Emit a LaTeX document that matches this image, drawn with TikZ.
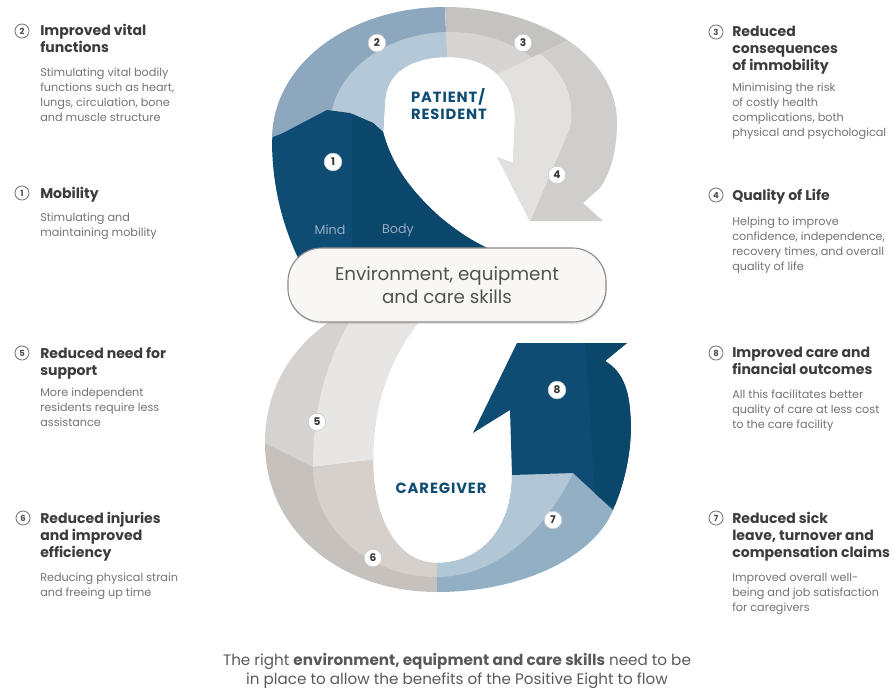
\documentclass[tikz,border=0pt]{standalone}
\usepackage{fontspec}
\setmainfont{Poppins}
\usepackage{tikz}
\usetikzlibrary{shapes, shadows, positioning}
\definecolor{navy}{RGB}{14,76,115}
\definecolor{navyR}{RGB}{11,70,107}
\definecolor{steelO}{RGB}{141,168,190}
\definecolor{steelI}{RGB}{180,200,215}
\definecolor{greyThreeO}{RGB}{197,195,193}
\definecolor{greyThreeI}{RGB}{215,213,211}
\definecolor{greyFourO}{RGB}{208,206,204}
\definecolor{greyFourI}{RGB}{227,225,223}
\definecolor{greyFiveO}{RGB}{213,210,207}
\definecolor{greyFiveI}{RGB}{232,230,228}
\definecolor{greySixO}{RGB}{198,193,189}
\definecolor{greySixI}{RGB}{213,208,204}
\definecolor{blueSevenO}{RGB}{146,175,196}
\definecolor{blueSevenI}{RGB}{177,199,214}
\definecolor{headgrey}{RGB}{60,60,60}
\definecolor{bodygrey}{RGB}{115,115,115}
\definecolor{boxfill}{RGB}{248,247,245}
\definecolor{mindblue}{RGB}{150,174,196}
\tikzset{
    numdot/.style={circle, fill=white, draw=black!20, line width=0.5pt, inner sep=0pt, minimum size=12.5pt, text=black!80, font=\bfseries\fontsize{7.5}{7.5}\selectfont},
    numring/.style={circle, draw=black!55, line width=0.6pt, inner sep=0pt, minimum size=10pt, text=black!70, font=\bfseries\fontsize{6}{6}\selectfont},
    headtxt/.style={anchor=north west, align=left, inner sep=0pt, text=headgrey, font=\bfseries\fontsize{10}{12}\selectfont},
    bodytxt/.style={anchor=north west, align=left, inner sep=0pt, text=bodygrey, font=\fontsize{8}{10.6}\selectfont},
    looptitle/.style={align=left, inner sep=0pt, text=navy, font=\bfseries\fontsize{10.5}{12}\selectfont\addfontfeatures{LetterSpace=6}},
    envbox/.style={rectangle, rounded corners=24pt, draw=black!45, line width=0.8pt, fill=boxfill, minimum width=7.95cm, minimum height=1.85cm, align=center, text=black!68, font=\fontsize{13}{16.5}\selectfont, drop shadow={opacity=0.2, shadow xshift=0.6pt, shadow yshift=-1.5pt}},
    smalltxt/.style={inner sep=0pt, text=mindblue, font=\fontsize{9}{9}\selectfont}
}
\newcommand\segOne{(273,137) -- (283,133) -- (327,110) -- (350,113) -- (373,123) -- (383,132) .. controls (392,165) and (410,190) .. (440,217) .. controls (458,232) and (475,243) .. (492,250) -- (492,262) -- (300,262) .. controls (282,225) and (272,185) .. (272,140) -- cycle}
\newcommand\segTwo{(272,140) .. controls (272,62) and (352,7) .. (445,7) -- (447,57) .. controls (412,57) and (387,72) .. (385,100) -- (383,134) -- cycle}
\newcommand\segThree{(445,7) .. controls (494,7) and (537,20) .. (568,40.5) -- (497,74) .. controls (485.5,63) and (468.5,57) .. (447,57) -- cycle}
\newcommand\segFour{(568,40.5) .. controls (598.5,61) and (617,90) .. (617,122) .. controls (617,150) and (611,172) .. (600,188) -- (583,203) -- (603,221) -- (530,221) -- (497,157) -- (513,163) -- (515,120) .. controls (515,101) and (509,85) .. (497,74) -- cycle}
\newcommand\segFive{(345,312) .. controls (295,340) and (265,385) .. (265,443) -- (313,467) -- (373,460) .. controls (373,400) and (392,352) .. (427,312) -- cycle}
\newcommand\segSix{(265,443) .. controls (265,530) and (340,592) .. (437,592) -- (437,563) .. controls (398,563) and (373,520) .. (373,460) -- (313,467) -- cycle}
\newcommand\segSeven{(437,592) .. controls (525,592) and (595,555) .. (613,510) -- (573,473) -- (512,475) .. controls (512,530) and (480,563) .. (437,563) -- cycle}
\newcommand\segEight{(512,475) -- (510,410) -- (473,433) -- (517,343) -- (627,343) -- (605,361) .. controls (620,370) and (628,385) .. (630,410) .. controls (633,440) and (628,475) .. (613,510) -- (573,473) -- cycle}
\newcommand\midUpper{(450,127) ellipse [x radius=120, y radius=95]}
\newcommand\midLower{(360,305) .. controls (330,350) and (313,400) .. (313,467) .. controls (313,530) and (370,577) .. (437,577) .. controls (490,577) and (540,540) .. (573,473) -- (573,300) -- cycle}

\begin{document}
\begin{tikzpicture}[x=0.025cm, y=-0.025cm]
\useasboundingbox (0,0) rectangle (894,692);

\fill[steelO] \segTwo;
\begin{scope}
    \clip \segTwo;
    \fill[steelI] \midUpper;
\end{scope}
\fill[greyThreeO] \segThree;
\begin{scope}
    \clip \segThree;
    \fill[greyThreeI] \midUpper;
\end{scope}
\fill[greyFourO] \segFour;
\begin{scope}
    \clip \segFour;
    \fill[greyFourI] (540,54) .. controls (566,74) and (575,100) .. (570,128) -- (530,222) -- (480,222) -- (480,54) -- cycle;
\end{scope}
\fill[navy] \segOne;
\begin{scope}
    \clip \segOne;
    \fill[navyR] (352,100) -- (500,100) -- (500,270) -- (352,270) -- cycle;
\end{scope}

\fill[greyFiveO] \segFive;
\begin{scope}
    \clip \segFive;
    \fill[greyFiveI] \midLower;
\end{scope}
\fill[greySixO] \segSix;
\begin{scope}
    \clip \segSix;
    \fill[greySixI] \midLower;
\end{scope}
\fill[blueSevenO] \segSeven;
\begin{scope}
    \clip \segSeven;
    \fill[blueSevenI] \midLower;
\end{scope}
\fill[navy] \segEight;
\begin{scope}
    \clip \segEight;
    \fill[navyR] (585,330) -- (640,330) -- (640,520) -- (595,495) -- cycle;
\end{scope}

\node[envbox] (env) at (447,285) {Environment, equipment\\and care skills};

\node[looptitle] (patient) at (449,104) {PATIENT/\\RESIDENT};
\node[looptitle] (caregiver) at (441,488) {CAREGIVER};
\node[smalltxt] (mind) at (330,230) {Mind};
\node[smalltxt] (body) at (398,230) {Body};

\node[numdot] (d1) at (333,162) {1};
\node[numdot] (d2) at (377,43) {2};
\node[numdot] (d3) at (523,43) {3};
\node[numdot] (d4) at (557,175) {4};
\node[numdot] (d5) at (317,422) {5};
\node[numdot] (d6) at (373,558) {6};
\node[numdot] (d7) at (553,520) {7};
\node[numdot] (d8) at (557,390) {8};

\node[numring] (n2) at (22,31) {2};
\node[headtxt] (h2) at (40,24) {Improved vital\\functions};
\node[bodytxt] (b2) at (40,68) {Stimulating vital bodily\\functions such as heart,\\lungs, circulation, bone\\and muscle structure};
\node[numring] (n1) at (22,193) {1};
\node[headtxt] (h1) at (40,187) {Mobility};
\node[bodytxt] (b1) at (40,213) {Stimulating and\\maintaining mobility};
\node[numring] (n5) at (22,353) {5};
\node[headtxt] (h5) at (40,347) {Reduced need for\\support};
\node[bodytxt] (b5) at (40,388) {More independent\\residents require less\\assistance};
\node[numring] (n6) at (23,518) {6};
\node[headtxt] (h6) at (40,512) {Reduced injuries\\and improved\\efficiency};
\node[bodytxt] (b6) at (40,573) {Reducing physical strain\\and freeing up time};

\node[numring] (n3) at (716,32) {3};
\node[headtxt] (h3) at (732,26) {Reduced\\consequences\\of immobility};
\node[bodytxt] (b3) at (732,83) {Minimising the risk\\of costly health\\complications, both\\physical and psychological};
\node[numring] (n4) at (716,195) {4};
\node[headtxt] (h4) at (732,189) {Quality of Life};
\node[bodytxt] (b4) at (732,217) {Helping to improve\\confidence, independence,\\recovery times, and overall\\quality of life};
\node[numring] (n8) at (716,353) {8};
\node[headtxt] (h8) at (732,347) {Improved care and\\financial outcomes};
\node[bodytxt] (b8) at (732,390) {All this facilitates better\\quality of care at less cost\\to the care facility};
\node[numring] (n7) at (716,518) {7};
\node[headtxt] (h7) at (732,512) {Reduced sick\\leave, turnover and\\compensation claims};
\node[bodytxt] (b7) at (732,573) {Improved overall well-\\being and job satisfaction\\for caregivers};

\node[align=center, inner sep=0pt, text=black!65, font=\fontsize{10.8}{14}\selectfont] (foot) at (457,671) {The right \textbf{environment, equipment and care skills} need to be\\in place to allow the benefits of the Positive Eight to flow};
\end{tikzpicture}
\end{document}
